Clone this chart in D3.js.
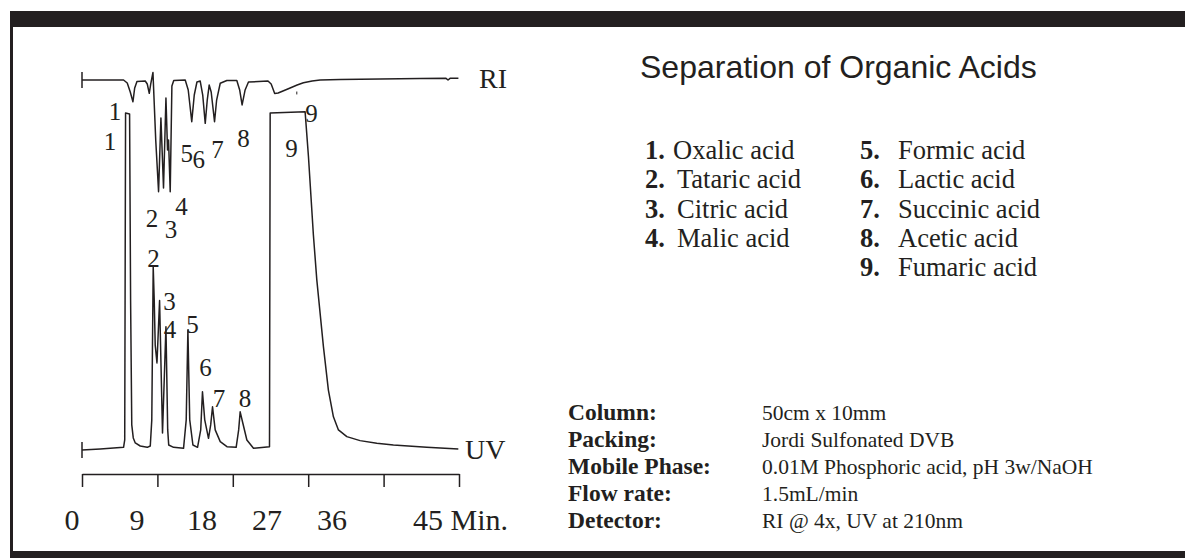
<!DOCTYPE html>
<html>
<head>
<meta charset="utf-8">
<script src="https://cdn.jsdelivr.net/npm/d3@7"></script>
<style>
  html, body { margin: 0; padding: 0; background: #fff; }
  svg { display: block; }
  .serif { font-family: "Liberation Serif", "Times New Roman", Times, serif; fill: #231f20; }
  .sans { font-family: "Liberation Sans", Arial, Helvetica, sans-serif; fill: #231f20; }
</style>
</head>
<body>
<svg id="chart" width="1185" height="558"></svg>
<script>
// Retention-time axis (minutes)
const timeTicks = [0, 9, 18, 27, 36, 45];

// RI detector trace: time (min) and response (relative units, negative = downward peak)
const riTime = [0, 4.96, 5.4, 5.76, 6.08, 6.29, 6.56, 7.55, 7.79, 8.03, 8.2, 8.47,
  8.8, 9.14, 9.42, 9.73, 10.02, 10.21, 10.33, 10.53, 10.73, 10.95,
  12.32, 12.68, 13.1, 13.4, 13.72, 14.11, 14.41, 14.71, 14.95, 15.18, 15.42, 15.82, 16.07, 16.5,
  17.29, 18.48, 18.82, 19.11, 19.47, 19.87, 22.2, 22.58, 23.0, 23.41, 24.13, 24.84, 25.68,
  26.43, 27.47, 28.42, 30.81, 35.58, 40.35, 43.45, 43.69, 43.93, 44.93];
const riSignal = [0, 0, -2.7, -10.7, -19.4, -7.1, -1.3, -0.9, -3.6, -11.9, -3.6, 6.7,
  -53.6, -99.7, -33.9, -96.4, -16.1, -62.5, -53.6, -99.7, -5.4, -0.4,
  0, -8.9, -37.2, -13.4, -1.8, -0.9, -13.4, -38.7, -17.9, -4.5, -10.7, -37.2, -17.9, -2.9,
  -0.4, -0.4, -8.9, -22.3, -8.9, -1.8, -0.9, -3.6, -12.1, -11.6, -9.4, -7.1, -4.5,
  -2.4, -0.9, 0, 0.4, 0.9, 1.3, 1.5, 0, 1.5, 1.5];

// UV (210 nm) trace: time (min) and response (% of full scale)
const uvTime = [0, 2.18, 4.96, 5.1, 5.2, 5.68, 5.8, 5.94, 6.12, 6.36, 6.95, 7.79,
  8.15, 8.33, 8.5, 8.62, 8.74, 8.95, 9.26, 9.61, 10.02, 10.23, 10.35, 10.93,
  12.12, 12.44, 12.64, 12.86, 13.24, 13.79, 14.17, 14.38, 14.65, 15.1, 15.36, 15.58, 15.9, 16.5,
  17.3, 18.4, 18.7, 18.88, 19.2, 19.68, 20.47, 22.38, 22.46, 26.63, 27.03, 27.62, 28.03,
  28.82, 29.41, 30.01, 30.61, 31.61, 33.19, 35.19, 37.17, 41.15, 44.92];
const uvSignal = [-0.6, -0.3, 0.2, 2.4, 100, 99.7, 44.2, 6.9, 3.0, 1.5, 0.6, 0.2,
  0.6, 8.4, 54.1, 44.2, 30.7, 25.4, 44.0, 4.5, 36.2, 5.4, 0.9, 0.2,
  -0.1, 8.4, 35.2, 8.4, 0.9, 0.2, 5.4, 16.8, 8.4, 2.9, 6.9, 12.3, 5.4, 1.9,
  0.4, 0.2, 5.4, 10.8, 7.4, 2.4, -0.1, 0.4, 100, 100.4, 87, 63.6, 50.1,
  30.2, 17.3, 9.3, 5.4, 3.4, 2.2, 1.4, 0.9, 0.2, -0.3];

// Peak numbers and where they are written (time, level on each trace's scale)
const riPeakNums = ["1", "2", "3", "4", "5", "6", "7", "8", "9"];
const riPeakTime = [3.94, 8.36, 10.62, 11.88, 12.5, 13.95, 16.17, 19.28, 27.39];
const riPeakLevel = [-35.7, -131, -141, -120.5, -72.9, -78.6, -69.6, -59.6, -37.5];

const uvPeakNums = ["1", "2", "3", "4", "5", "6", "7", "8", "9"];
const uvPeakTime = [3.34, 8.53, 10.44, 10.5, 13.19, 14.74, 16.35, 19.46, 25.0];
const uvPeakLevel = [89, 54.1, 41.3, 32.8, 34.2, 21.6, 12.3, 12.3, 86.9];

// Small marker on the RI trace
const riMarkTime = 25.64;
const riMarkLevel = [-10.3, -12.9];

// Compound list
const compoundNums = ["1.", "2.", "3.", "4.", "5.", "6.", "7.", "8.", "9."];
const compoundNames = ["Oxalic acid", "Tataric acid", "Citric acid", "Malic acid",
  "Formic acid", "Lactic acid", "Succinic acid", "Acetic acid", "Fumaric acid"];

// Run conditions
const condLabels = ["Column:", "Packing:", "Mobile Phase:", "Flow rate:", "Detector:"];
const condValues = ["50cm x 10mm", "Jordi Sulfonated DVB",
  "0.01M Phosphoric acid, pH 3w/NaOH", "1.5mL/min", "RI @ 4x, UV at 210nm"];

const title = "Separation of Organic Acids";

// ---------------------------------------------------------------
const ink = "#231f20";
const svg = d3.select("#chart");

// Frame
svg.append("rect").attr("x", 10).attr("y", 11).attr("width", 1175).attr("height", 16).attr("fill", ink);
svg.append("rect").attr("x", 10).attr("y", 11).attr("width", 3).attr("height", 547).attr("fill", ink);
svg.append("rect").attr("x", 10).attr("y", 551).attr("width", 1175).attr("height", 7).attr("fill", ink);

// Scales
const x = d3.scaleLinear().domain([0, 45]).range([82, 459]);
const yRI = d3.scaleLinear().domain([0, -100]).range([80, 192]);
const yUV = d3.scaleLinear().domain([0, 100]).range([448, 113]);
// The minute numbers are typeset on a tighter pitch than the tick marks
const xLabel = d3.scaleLinear().domain([0, 36]).range([72, 332]);

const riData = riTime.map((t, i) => [t, riSignal[i]]);
const uvData = uvTime.map((t, i) => [t, uvSignal[i]]);

const riLine = d3.line().x(d => x(d[0])).y(d => yRI(d[1])).curve(d3.curveLinear);
const uvLine = d3.line().x(d => x(d[0])).y(d => yUV(d[1])).curve(d3.curveLinear);

const traces = svg.append("g").attr("fill", "none").attr("stroke", ink)
  .attr("stroke-width", 1.5).attr("stroke-linejoin", "round");
traces.append("path").attr("d", riLine(riData));
traces.append("path").attr("d", uvLine(uvData));

// Start markers on each baseline
traces.append("line").attr("x1", x(0)).attr("x2", x(0))
  .attr("y1", yRI(riSignal[0]) - 8).attr("y2", yRI(riSignal[0]) + 8);
traces.append("line").attr("x1", x(0)).attr("x2", x(0))
  .attr("y1", yUV(uvSignal[0]) - 8).attr("y2", yUV(uvSignal[0]) + 8);
traces.append("line").attr("stroke-width", 1)
  .attr("x1", x(riMarkTime)).attr("x2", x(riMarkTime))
  .attr("y1", yRI(riMarkLevel[0])).attr("y2", yRI(riMarkLevel[1]));

// Detector names at the trace ends
svg.append("text").attr("class", "serif").attr("x", 479).attr("y", yRI(riSignal[riSignal.length - 1]) + 10)
  .attr("font-size", 28).text("RI");
svg.append("text").attr("class", "serif").attr("x", 465).attr("y", yUV(uvSignal[uvSignal.length - 1]) + 10)
  .attr("font-size", 28).text("UV");

// Peak numbers
const peakG = svg.append("g").attr("font-size", 25).attr("text-anchor", "middle");
riPeakNums.forEach((n, i) => {
  peakG.append("text").attr("class", "serif").attr("x", x(riPeakTime[i])).attr("y", yRI(riPeakLevel[i])).text(n);
});
uvPeakNums.forEach((n, i) => {
  peakG.append("text").attr("class", "serif").attr("x", x(uvPeakTime[i])).attr("y", yUV(uvPeakLevel[i])).text(n);
});

// Time axis: tick marks on the trace scale
const axis = d3.axisBottom(x).tickValues(timeTicks).tickSize(13).tickSizeOuter(0).tickFormat(() => "");
const axG = svg.append("g").attr("transform", "translate(0,474)").call(axis);
axG.select(".domain").attr("stroke", ink).attr("stroke-width", 1.5);
axG.selectAll(".tick line").attr("stroke", ink).attr("stroke-width", 1.5);

// Minute numbers
const tickLabelG = svg.append("g").attr("font-size", 30);
timeTicks.forEach(t => {
  const last = t === timeTicks[timeTicks.length - 1];
  tickLabelG.append("text").attr("class", "serif")
    .attr("x", last ? x(t) - 46 : xLabel(t))
    .attr("y", 530)
    .attr("text-anchor", last ? "start" : "middle")
    .text(last ? t + " Min." : t);
});

// Title
svg.append("text").attr("class", "sans").attr("x", 640).attr("y", 78).attr("font-size", 32).text(title);

// Compound list in two columns
const listG = svg.append("g").attr("font-size", 26.5);
compoundNums.forEach((n, i) => {
  const col = i < 4 ? 0 : 1;
  const row = i < 4 ? i : i - 4;
  const yy = 159 + row * 29.3;
  listG.append("text").attr("class", "serif").attr("x", col ? 860 : 645).attr("y", yy)
    .attr("font-weight", "bold").text(n);
  listG.append("text").attr("class", "serif").attr("x", col ? 898 : (i === 0 ? 673 : 677)).attr("y", yy)
    .text(compoundNames[i]);
});

// Run conditions block
const condG = svg.append("g");
condLabels.forEach((l, i) => {
  const yy = 420 + i * 27;
  condG.append("text").attr("class", "serif").attr("x", 568).attr("y", yy)
    .attr("font-size", 23.5).attr("font-weight", "bold").text(l);
  condG.append("text").attr("class", "serif").attr("x", 762).attr("y", yy)
    .attr("font-size", 21.5).text(condValues[i]);
});
</script>
</body>
</html>
